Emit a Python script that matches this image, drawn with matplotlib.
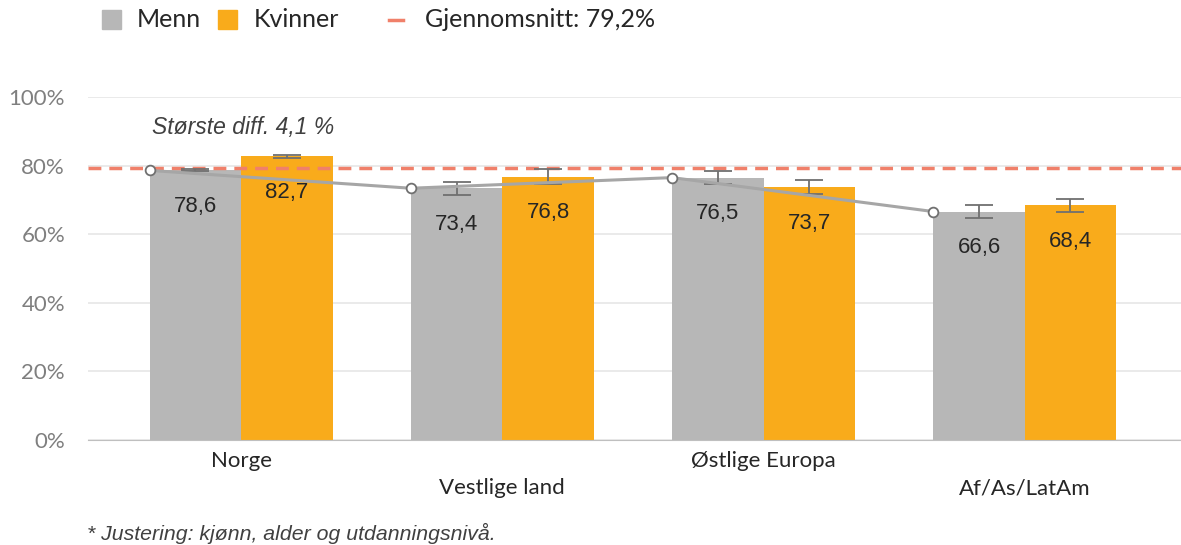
import matplotlib.pyplot as plt
import matplotlib.patches as mpatches
import numpy as np

categories = ["Norge", "Vestlige land", "Østlige Europa", "Af/As/LatAm"]
menn = [78.6, 73.4, 76.5, 66.6]
kvinner = [82.7, 76.8, 73.7, 68.4]
menn_err = [0.3, 1.9, 1.8, 2.0]
kvinner_err = [0.4, 2.1, 2.0, 2.0]
snitt = 79.2
yticks = [0, 20, 40, 60, 80, 100]

grey = "#B7B7B7"
orange = "#F9AB1B"
red = "#F0806A"
txt = "#262626"
cal = ['Lato', 'DejaVu Sans']

plt.rcParams['font.family'] = ['Liberation Sans', 'DejaVu Sans']

fig = plt.figure(figsize=(11.81, 5.45), dpi=100)
ax = fig.add_axes([88 / 1181, 105 / 545, 1093 / 1181, 343 / 545])

x = np.arange(len(categories))
w = 0.35
ax.bar(x - w / 2, menn, w, color=grey, zorder=2)
ax.bar(x + w / 2, kvinner, w, color=orange, zorder=2)
ax.errorbar(x - w / 2, menn, yerr=menn_err, fmt='none', ecolor="#707070",
            elinewidth=1.3, capsize=10, capthick=1.3, zorder=4)
ax.errorbar(x + w / 2, kvinner, yerr=kvinner_err, fmt='none', ecolor="#707070",
            elinewidth=1.3, capsize=10, capthick=1.3, zorder=4)

# grå linje gjennom menn-verdiene
ax.plot(x - w, menn, color="#A6A6A6", lw=2.2, marker='o', ms=7,
        mfc='white', mec="#707070", mew=1.3, zorder=5)

ax.axhline(snitt, color=red, lw=2.5, ls=(0, (3.7, 2.3)), zorder=3)

for i in range(len(categories)):
    ax.text(x[i] - w / 2, menn[i] - 10.5, f"{menn[i]:.1f}".replace('.', ','),
            ha='center', va='center', fontsize=16, color=txt, zorder=6)
    ax.text(x[i] + w / 2, kvinner[i] - 10.5, f"{kvinner[i]:.1f}".replace('.', ','),
            ha='center', va='center', fontsize=16, color=txt, zorder=6)

ax.text(-0.34, 91.2, "Største diff. 4,1 %", fontsize=16.5,
        style='italic', color="#404040", ha='left', va='center')

ax.set_xlim(-0.586, 3.598)
ax.set_ylim(0, 100)
ax.set_yticks(yticks)
ax.set_yticklabels([f"{t}%" for t in yticks], fontsize=16, color="#7F7F7F",
                   family=cal)
ax.tick_params(axis='y', length=0, pad=16.5)
ax.grid(axis='y', color="#E6E6E6", lw=1.2, zorder=0)
ax.set_axisbelow(True)
for s in ['top', 'right', 'left']:
    ax.spines[s].set_visible(False)
ax.spines['bottom'].set_color("#BFBFBF")
ax.set_xticks([])
for i, c in enumerate(categories):
    yoff = -0.06 if i % 2 == 0 else -0.14
    ax.text(x[i], yoff, c, transform=ax.get_xaxis_transform(), ha='center',
            va='center', fontsize=16, color=txt, family=cal)

# legend øverst
ly = 1 - 19.5 / 545
fig.patches.append(mpatches.Rectangle((102 / 1181, 1 - 29 / 545), 19 / 1181, 19 / 545,
                                      color=grey, transform=fig.transFigure))
fig.text(137 / 1181, ly, "Menn", fontsize=18, va='center', color=txt, family=cal)
fig.patches.append(mpatches.Rectangle((218 / 1181, 1 - 29 / 545), 19 / 1181, 19 / 545,
                                      color=orange, transform=fig.transFigure))
fig.text(254 / 1181, ly, "Kvinner", fontsize=18, va='center', color=txt, family=cal)
fig.lines.append(plt.Line2D([389 / 1181, 403 / 1181], [ly, ly],
                            color=red, lw=2.5, transform=fig.transFigure))
fig.text(425 / 1181, ly, "Gjennomsnitt: 79,2%", fontsize=18, va='center',
         color=txt, family=cal)

fig.text(87 / 1181, 1 - 533 / 545, "* Justering: kjønn, alder og utdanningsnivå.",
         fontsize=15.3, style='italic', color="#404040", va='center')

fig.savefig("out.png", dpi=100)
